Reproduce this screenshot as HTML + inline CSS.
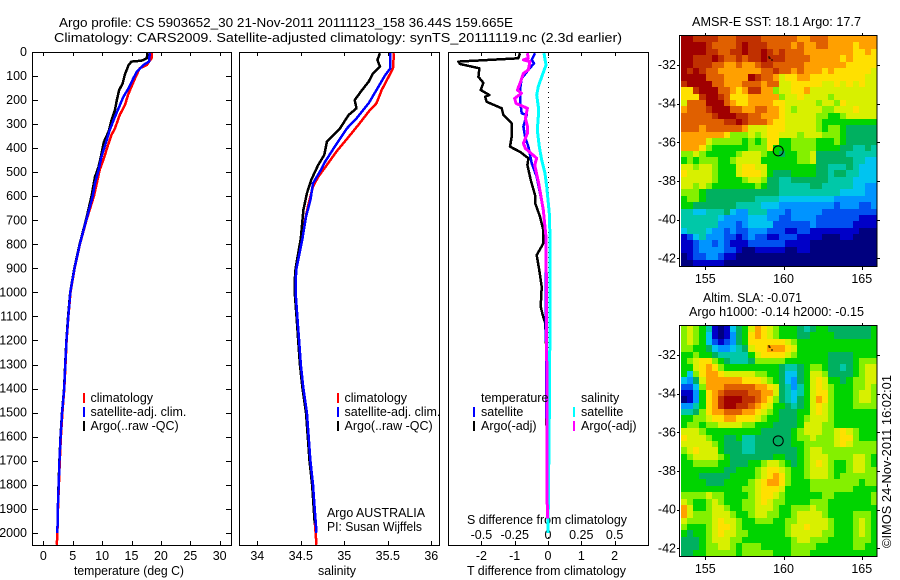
<!DOCTYPE html>
<html lang="en">
<head>
<meta charset="utf-8">
<title>Argo profile</title>
<style>
html,body{margin:0;padding:0;background:#fff;}
svg{display:block;}
text{font-family:"Liberation Sans",sans-serif;font-size:12.5px;fill:#000;}
</style>
</head>
<body>
<svg id="chart" width="900" height="580" viewBox="0 0 900 580" xmlns="http://www.w3.org/2000/svg">
<rect x="0" y="0" width="900" height="580" fill="#fff"/>
<text x="59" y="27" textLength="454" lengthAdjust="spacingAndGlyphs">Argo profile: CS 5903652_30 21-Nov-2011 20111123_158 36.44S 159.665E</text>
<text x="54" y="42" textLength="568" lengthAdjust="spacingAndGlyphs">Climatology: CARS2009. Satellite-adjusted climatology: synTS_20111119.nc (2.3d earlier)</text>
<text x="74" y="575" textLength="110" lengthAdjust="spacingAndGlyphs">temperature (deg C)</text>
<text x="318" y="575" textLength="38" lengthAdjust="spacingAndGlyphs">salinity</text>
<text x="467" y="575" textLength="159" lengthAdjust="spacingAndGlyphs">T difference from climatology</text>
<text x="467" y="524" textLength="160" lengthAdjust="spacingAndGlyphs">S difference from climatology</text>
<text x="692" y="26" textLength="169" lengthAdjust="spacingAndGlyphs">AMSR-E SST: 18.1 Argo: 17.7</text>
<text x="703" y="302" textLength="99" lengthAdjust="spacingAndGlyphs">Altim. SLA: -0.071</text>
<text x="689" y="316" textLength="175" lengthAdjust="spacingAndGlyphs">Argo h1000: -0.14 h2000: -0.15</text>
<text transform="translate(891,548) rotate(-90)" x="0" y="0" textLength="173" lengthAdjust="spacingAndGlyphs">©IMOS 24-Nov-2011 16:02:01</text>
<text x="327" y="517" textLength="98" lengthAdjust="spacingAndGlyphs">Argo AUSTRALIA</text>
<text x="327" y="531" textLength="95" lengthAdjust="spacingAndGlyphs">PI: Susan Wijffels</text>
<g id="plots"></g>
</svg>
<script>
/* ---------- axis tick values ---------- */
const depthTicks = [0,100,200,300,400,500,600,700,800,900,1000,1100,1200,1300,1400,1500,1600,1700,1800,1900,2000];
const tempTicks = [0,5,10,15,20,25,30];
const salTicks = [34,34.5,35,35.5,36];
const tDiffTicks = [-2,-1,0,1,2];
const sDiffTicks = [-0.5,-0.25,0,0.25,0.5];
const lonTicks = [155,160,165];
const latTicks = [-32,-34,-36,-38,-40,-42];

/* ---------- temperature profiles ---------- */
const tempClimDepth = [5,26,54,68,110,144,179,220,262,317,345,387,442,490,546,600,700,800,900,1000,1100,1200,1300,1400,1500,1600,1700,1800,1900,2000,2050];
const tempClim = [18.4,18.4,17.6,16.4,15.6,15.0,14.4,13.9,13.0,12.2,11.6,11.0,10.3,9.6,9.1,8.6,7.33,6.23,5.33,4.63,4.27,3.97,3.77,3.57,3.25,3.0,2.8,2.66,2.5,2.4,2.3];
const tempSatDepth = [5,40,54,82,110,151,187,228,269,325,374,435,490,546,600,700,800,900,1000,1100,1200,1300,1400,1500,1600,1700,1800,1900,2000];
const tempSat = [18.1,18.0,17.0,15.9,15.3,14.5,13.6,12.9,12.2,11.3,10.7,9.9,9.4,8.8,8.4,7.3,6.2,5.3,4.6,4.25,3.95,3.75,3.55,3.2,2.95,2.75,2.62,2.47,2.4];
const tempArgoDepth = [5,26,36,40,54,92,130,158,200,241,283,331,374,423,477,519,600,700,800,900,1000,1100,1200,1300,1400,1500,1600,1700,1800,1850];
const tempArgo = [17.7,17.6,16.7,15.0,14.5,13.9,13.5,12.9,12.5,12.2,11.6,11.1,10.3,9.9,9.4,8.8,8.2,7.25,6.18,5.28,4.58,4.22,3.93,3.73,3.53,3.18,2.93,2.73,2.6,2.5];

/* ---------- salinity profiles ---------- */
const salClimDepth = [5,68,117,158,213,248,304,353,414,470,519,560,630,699,775,900,950,1000,1100,1200,1300,1400,1500,1700,1800,1900,2000,2050];
const salClim = [35.57,35.56,35.49,35.43,35.37,35.28,35.16,35.05,34.91,34.80,34.70,34.64,34.59,34.55,34.52,34.45,34.44,34.44,34.46,34.48,34.50,34.52,34.56,34.60,34.63,34.65,34.67,34.68];
const salSatDepth = [5,68,96,158,213,276,318,394,456,498,546,616,685,775,900,950,1000,1100,1200,1300,1400,1500,1700,1800,1900,2000];
const salSat = [35.53,35.53,35.47,35.37,35.28,35.14,35.03,34.89,34.78,34.72,34.64,34.61,34.56,34.52,34.45,34.44,34.44,34.46,34.48,34.50,34.53,34.57,34.61,34.64,34.66,34.68];
const salArgoDepth = [5,33,61,89,123,165,200,234,262,318,373,428,470,532,588,657,775,900,950,1000,1100,1200,1300,1400,1500,1700,1800,1960];
const salArgo = [35.41,35.38,35.41,35.33,35.28,35.19,35.12,35.14,35.05,34.95,34.80,34.77,34.70,34.62,34.57,34.53,34.50,34.44,34.43,34.43,34.45,34.47,34.49,34.52,34.56,34.60,34.63,34.66];

/* ---------- differences from climatology ---------- */
const diffTArgoDepth = [5,26,40,50,68,103,128,158,179,186,207,234,262,297,352,394,415,442,470,532,595,630,685,741,796,845,908,977,1059,1094,1129,1212,1400,1700,1830];
const diffTArgo = [-0.84,-0.89,-2.69,-2.64,-2.06,-2.09,-1.94,-2.02,-1.76,-1.89,-1.84,-1.39,-1.34,-1.09,-1.09,-1.14,-0.84,-0.59,-0.62,-0.52,-0.39,-0.38,-0.24,-0.14,-0.14,-0.34,-0.26,-0.19,-0.22,-0.16,-0.08,-0.06,-0.05,-0.04,-0.04];
const diffTSatDepth = [5,33,47,75,110,158,200,255,262,310,352,394,463,519,574,657,769,1000,1400,1830];
const diffTSat = [-0.39,-0.49,-0.42,-0.59,-0.79,-0.84,-0.84,-0.79,-0.64,-0.74,-0.69,-0.59,-0.49,-0.34,-0.26,-0.14,-0.06,-0.07,-0.05,-0.03];
const diffSSatDepth = [5,54,103,144,179,227,269,324,394,449,505,560,671,769,1000,1400,1700,2000];
const diffSSat = [-0.03,-0.015,-0.0475,-0.0725,-0.085,-0.0725,-0.0725,-0.08,-0.065,-0.0475,-0.0225,-0.01,0.01,0.015,0.015,0.012,0.006,0.0];
const diffSArgoDepth = [5,26,33,40,75,89,130,158,172,193,214,234,276,310,338,380,401,442,470,546,657,769,1000,1400,1940];
const diffSArgo = [-0.155,-0.148,-0.185,-0.135,-0.148,-0.185,-0.21,-0.23,-0.2,-0.25,-0.24,-0.155,-0.17,-0.155,-0.155,-0.185,-0.17,-0.085,-0.1,-0.07,-0.035,-0.015,-0.012,-0.008,-0.005];

/* ---------- sea surface temperature map (colour level per cell) ---------- */
const sstRows = [
[14,14,13,13,13,13,12,12,12,13,13,13,13,12,12,12,12,12,12,11,11,12,12,12,11,11,11,11,11,11,11,11],
[14,14,14,14,13,12,12,12,12,13,14,13,13,13,12,12,12,12,11,12,11,11,12,12,11,11,11,11,10,11,11,11],
[14,14,14,14,13,13,12,12,13,13,14,13,13,14,13,12,13,12,12,12,11,11,11,11,11,11,11,11,10,10,11,10],
[14,14,13,13,13,14,13,12,12,13,12,13,13,14,13,13,13,12,12,12,12,11,11,11,11,11,10,11,10,10,10,10],
[14,14,13,13,13,12,12,11,11,12,11,11,12,13,13,12,12,12,12,12,11,11,11,11,11,11,11,10,10,10,10,10],
[14,13,14,13,12,12,11,11,11,11,11,11,11,12,12,13,12,12,11,12,11,11,11,10,11,10,10,10,10,10,10,9],
[14,14,14,14,12,12,12,11,11,11,11,14,13,12,12,11,9,10,10,11,11,10,10,10,10,10,10,10,10,10,9,9],
[13,14,14,14,14,12,12,11,11,11,12,12,12,11,12,12,9,9,10,10,10,10,10,9,9,10,9,10,9,10,9,9],
[10,10,13,14,14,14,12,12,11,10,11,13,13,11,11,8,9,9,10,10,11,9,9,9,9,9,9,9,9,9,9,9],
[10,10,10,13,14,14,13,12,10,10,10,11,11,11,11,11,8,9,9,10,9,9,9,9,8,9,9,9,9,9,9,9],
[9,12,12,12,14,14,14,12,11,10,10,11,11,11,11,10,10,9,9,9,9,9,8,9,9,8,10,9,9,9,9,9],
[11,12,12,12,13,14,14,14,12,12,11,11,12,12,11,11,10,9,8,9,9,9,9,8,8,9,9,9,10,9,9,9],
[12,12,12,12,12,13,14,14,14,13,13,12,12,11,11,11,10,9,9,9,9,9,8,8,7,7,8,9,9,9,9,9],
[12,12,12,12,12,12,12,13,13,14,13,12,12,12,11,10,10,9,9,9,9,9,8,7,7,7,7,7,7,7,7,7],
[12,12,12,11,12,12,12,12,12,12,11,9,9,9,10,10,10,9,9,9,9,9,8,7,8,8,7,6,6,6,6,6],
[11,11,11,11,11,11,11,10,8,8,8,9,8,9,10,10,9,9,9,8,9,9,9,8,8,8,7,6,6,6,6,6],
[11,11,11,11,9,8,8,8,8,8,7,8,7,8,10,10,7,7,8,8,8,8,7,7,7,8,7,6,6,6,6,6],
[11,11,11,10,8,7,7,7,7,7,7,8,8,8,10,7,7,7,8,8,8,8,7,7,7,7,6,6,5,5,6,5],
[8,8,9,8,7,7,7,7,7,8,9,9,9,8,7,7,6,7,7,8,8,9,6,6,6,6,6,5,5,5,5,5],
[7,8,7,8,8,8,7,7,8,9,9,9,9,7,7,7,7,7,7,8,8,9,6,6,6,6,6,6,5,5,4,4],
[9,9,8,9,9,8,7,7,7,9,10,10,9,9,7,7,7,7,7,7,7,7,6,6,5,5,5,6,5,4,4,4],
[10,9,9,9,9,8,7,7,7,9,10,10,10,9,7,6,6,6,7,7,7,7,6,6,5,6,6,5,5,4,4,4],
[9,9,9,9,9,8,7,7,7,7,8,9,9,8,6,6,5,5,6,6,6,6,6,6,5,5,5,5,4,4,4,4],
[9,9,8,9,8,7,7,7,7,7,7,7,8,7,6,6,5,5,5,5,5,6,6,5,5,5,5,5,4,4,3,3],
[8,8,8,7,6,6,6,6,6,6,6,6,6,6,6,6,5,5,5,5,5,5,5,5,5,5,4,4,4,4,3,3],
[7,8,8,7,6,6,6,6,6,6,6,6,5,5,5,5,4,4,4,4,4,4,4,4,4,3,3,3,3,3,3,3],
[7,7,6,6,6,6,6,6,6,5,5,5,5,4,4,4,3,3,3,3,3,3,3,3,3,2,3,3,3,2,2,3],
[5,5,4,4,5,5,5,6,4,3,3,5,5,5,3,3,3,2,3,3,3,3,3,2,2,2,2,2,2,2,2,2],
[5,5,5,5,5,5,4,3,3,3,3,4,4,4,3,3,2,2,3,3,3,3,2,2,2,2,2,2,2,1,1,1],
[5,5,5,5,5,5,3,3,3,2,3,4,4,4,4,2,2,2,2,2,2,3,2,2,2,2,2,2,1,1,1,1],
[4,5,5,5,4,3,3,2,3,2,2,3,3,3,2,2,2,1,1,2,2,1,1,1,1,1,1,1,1,0,0,0],
[1,2,4,5,3,3,3,2,2,1,2,3,2,2,1,1,2,2,2,1,1,1,1,0,0,0,1,1,0,0,0,0],
[1,1,2,3,3,2,3,2,1,1,1,2,2,2,2,2,2,1,1,1,1,0,0,0,0,0,0,0,0,0,0,0],
[1,1,2,3,3,3,3,2,2,1,0,0,1,1,1,1,1,0,0,1,1,0,0,0,0,0,0,0,0,0,0,0],
[0,1,2,2,3,3,2,1,1,0,0,0,0,0,0,0,0,0,0,0,0,0,0,0,0,0,0,0,0,0,0,0],
[0,0,1,1,1,1,1,0,0,0,0,0,0,0,0,0,0,0,0,0,0,0,0,0,0,0,0,0,0,0,0,0]
];

/* ---------- altimetry sea level anomaly map (colour level per cell) ---------- */
const slaRows = [
[8,9,8,7,5,1,0,1,4,6,7,9,11,10,9,8,7,7,7,6,5,6,7,7,6,6,6,6,6,6,6,7],
[8,9,8,7,4,1,0,1,3,6,7,10,11,10,9,8,7,7,7,6,6,7,7,7,7,6,6,6,6,6,6,7],
[8,9,8,7,4,2,1,2,3,6,7,10,10,10,10,10,10,9,8,7,7,7,7,7,7,7,7,7,7,7,7,7],
[8,8,7,7,6,4,3,3,4,5,6,9,10,10,11,11,11,10,9,7,7,7,7,7,7,7,7,7,7,7,7,7],
[7,7,8,7,7,6,5,5,5,5,5,7,9,10,10,10,10,9,8,7,7,7,7,7,6,6,6,6,7,7,7,7],
[7,8,9,10,10,8,7,6,5,5,5,6,8,8,8,8,8,7,7,7,7,7,7,7,6,6,6,6,7,8,8,8],
[7,7,9,10,11,10,8,7,7,7,7,7,7,7,7,7,6,5,5,6,7,8,8,7,6,6,5,6,7,8,9,9],
[7,4,8,10,11,11,10,9,9,9,9,9,8,8,7,7,6,4,4,6,7,9,9,8,6,6,6,6,7,8,9,9],
[4,3,6,9,11,11,11,11,11,11,10,10,10,9,8,7,6,4,3,6,7,9,10,9,7,7,6,7,8,8,9,9],
[2,2,4,8,11,11,11,12,12,12,12,12,11,11,10,9,6,5,3,5,7,9,10,9,8,7,7,7,8,8,9,8],
[1,1,3,7,10,11,12,13,13,13,13,12,12,11,11,9,6,5,4,5,7,9,10,10,8,7,7,7,8,9,9,8],
[0,1,3,7,10,11,13,14,14,14,13,13,12,11,10,8,6,5,4,6,7,9,11,10,8,7,7,7,8,9,9,8],
[3,3,5,7,10,11,13,14,14,13,13,12,11,10,9,7,7,6,5,6,7,9,10,9,8,7,7,7,8,8,8,8],
[5,5,6,8,10,11,11,12,12,12,11,11,10,9,8,7,6,6,6,7,7,9,10,9,8,7,7,7,7,7,7,7],
[7,7,8,8,9,10,10,11,11,10,10,10,9,8,7,7,6,6,6,7,8,9,9,9,8,7,7,7,7,7,7,7],
[7,8,8,7,8,8,9,9,9,9,8,8,7,7,7,6,6,6,6,7,9,9,9,8,8,7,7,7,7,7,7,7],
[9,9,9,8,7,7,7,7,7,7,7,7,7,6,6,6,6,6,7,8,9,9,9,8,8,9,10,9,8,7,7,7],
[10,9,9,9,8,7,7,6,6,7,5,5,6,6,6,6,6,6,7,8,8,9,8,8,8,9,10,10,8,7,7,7],
[9,9,9,9,9,8,7,6,6,6,5,5,6,6,6,6,6,6,7,7,8,8,8,8,8,9,10,9,8,8,8,8],
[8,9,10,9,9,9,7,6,6,6,5,5,6,6,6,6,6,6,6,7,8,9,9,8,8,8,8,8,8,8,8,8],
[7,8,9,9,9,9,8,7,6,6,6,6,6,6,6,7,7,6,6,7,8,9,9,9,8,8,8,8,9,9,8,7],
[7,7,8,8,8,8,7,7,6,6,6,7,7,8,9,9,8,7,6,7,8,9,10,9,8,7,7,8,9,9,8,7],
[7,7,7,7,7,7,7,6,6,7,7,7,8,9,10,10,9,8,7,7,8,9,9,9,8,7,7,8,9,9,8,8],
[7,7,7,6,6,6,6,6,7,7,7,7,8,9,10,11,10,8,7,7,8,9,9,9,8,7,8,8,8,8,8,8],
[7,7,7,7,6,6,6,7,7,7,7,8,9,10,11,11,10,8,7,7,7,8,8,8,8,8,8,8,8,7,8,8],
[7,7,7,7,7,7,7,7,7,7,8,8,9,10,10,10,9,7,7,7,7,8,8,8,8,8,8,8,7,7,7,7],
[8,8,8,8,9,8,8,7,7,7,7,8,9,10,10,9,8,7,7,7,7,7,7,8,8,7,7,7,7,7,7,8],
[9,8,7,7,8,9,8,7,7,7,8,8,9,10,9,8,8,7,7,7,7,8,8,8,7,7,7,7,7,7,7,8],
[11,9,7,7,8,9,9,8,7,7,8,8,9,9,9,8,7,7,8,8,8,9,8,8,7,7,7,7,7,7,7,7],
[11,9,8,8,8,9,9,9,8,7,7,8,9,9,8,8,7,7,8,9,9,9,9,8,7,7,7,7,8,8,8,7],
[9,8,8,8,8,9,10,9,9,8,7,7,8,8,8,7,7,8,8,9,9,9,9,9,8,7,7,7,8,9,8,7],
[8,7,7,7,8,9,10,10,9,8,7,7,7,7,7,7,7,8,9,9,10,9,9,9,8,7,7,7,8,9,8,7],
[7,6,7,7,8,9,10,9,9,8,8,7,7,7,7,7,7,8,9,9,9,9,9,8,8,7,7,7,8,9,8,7],
[6,6,6,7,8,9,9,9,8,8,7,7,7,7,7,7,7,7,8,9,9,8,8,8,7,7,7,7,8,8,8,7],
[6,6,6,7,8,8,9,9,8,7,8,8,8,7,7,7,7,7,8,8,8,8,7,7,7,7,7,7,8,8,7,7],
[6,6,7,7,8,8,8,8,8,7,8,8,8,8,8,7,7,7,8,8,8,7,7,7,7,7,7,7,7,7,7,7]
];

/* ---------- colour scale for map levels ---------- */
const levelColors = ['#00007f','#0000c8','#0050f0','#0094ff','#00c4f0','#00c8a8','#00b060','#00d400','#84f000','#d8f000','#ffe000','#ffa000','#e06000','#c03000','#a00000'];

/* ---------- axis functions ---------- */
const SVGNS = 'http://www.w3.org/2000/svg';
const root = document.getElementById('plots');
const yDepth = d => 52 + d * 0.2404;
const xTemp = t => 43.3 + t * 5.88;
const xSal = s => 257.3 + (s - 34) * 87;
const xTDiff = t => 548 + t * 33.3;
const xSDiff = s => 548 + s * 133.2;
const xLon = l => 705.3 + (l - 155) * 15.65;
const yLatTop = l => 65 + (-32 - l) * 19.33;
const yLatBot = l => 355 + (-32 - l) * 19.33;

function mk(tag, attrs, parent) {
  const el = document.createElementNS(SVGNS, tag);
  for (const k in attrs) el.setAttribute(k, attrs[k]);
  (parent || root).appendChild(el);
  return el;
}
function txt(str, x, y, anchor) {
  const el = mk('text', {x: x, y: y, 'text-anchor': anchor || 'middle'});
  el.textContent = str;
  return el;
}
function seg(x1, y1, x2, y2, color, width) {
  return mk('line', {x1: x1, y1: y1, x2: x2, y2: y2, stroke: color || '#000', 'stroke-width': width || 1, 'shape-rendering': 'crispEdges'});
}
function frame(x, y, w, h) {
  return mk('rect', {x: x, y: y, width: w, height: h, fill: 'none', stroke: '#000', 'stroke-width': 1, 'shape-rendering': 'crispEdges'});
}
function profile(depths, values, xFn, color, width) {
  const pts = depths.map((d, i) => xFn(values[i]).toFixed(1) + ',' + yDepth(d).toFixed(1)).join(' ');
  return mk('polyline', {points: pts, fill: 'none', stroke: color, 'stroke-width': width, 'stroke-linejoin': 'round', 'shape-rendering': 'crispEdges'});
}

/* ---------- map drawing ---------- */
function drawCells(rows, x0, y0, x1, y1) {
  const g = mk('g', {});
  const nRows = rows.length;
  rows.forEach((row, r) => {
    const top = Math.round(y0 + (y1 - y0) * r / nRows);
    const bot = Math.round(y0 + (y1 - y0) * (r + 1) / nRows);
    row.forEach((lvl, c) => {
      const left = Math.round(x0 + (x1 - x0) * c / row.length);
      const right = Math.round(x0 + (x1 - x0) * (c + 1) / row.length);
      const cell = mk('rect', {x: left, y: top, width: right - left, height: bot - top, fill: levelColors[lvl], 'shape-rendering': 'crispEdges'}, g);
      
      
    });
  });
  return g;
}

/* ---------- panel 1: temperature ---------- */
const f1 = frame(32.5, 52.5, 199, 493);


depthTicks.forEach(d => {
  const y = Math.round(yDepth(d)) + 0.5;
  const tl = seg(32, y, 38, y);
  
  
  const tr = seg(226, y, 231, y);
  
  
  const lb = txt(String(d), 27, yDepth(d) + 4, 'end');
  
  
});
tempTicks.forEach(t => {
  const x = Math.round(xTemp(t)) + 0.5;
  const a = seg(x, 52, x, 56);
  
  
  const b = seg(x, 541, x, 545);
  
  
  const lb = txt(String(t), xTemp(t), 560);
  
  
});
const pTc = profile(tempClimDepth, tempClim, xTemp, '#ff0000', 2.5);


const pTa = profile(tempArgoDepth, tempArgo, xTemp, '#000000', 2.5);


const pTs = profile(tempSatDepth, tempSat, xTemp, '#0000ff', 2.5);



/* ---------- panel 2: salinity ---------- */
const f2 = frame(239.5, 52.5, 200, 493);


salTicks.forEach(s => {
  const x = Math.round(xSal(s)) + 0.5;
  const a = seg(x, 52, x, 56);
  
  
  const b = seg(x, 541, x, 545);
  
  
  const lb = txt(String(s), xSal(s), 560);
  
  
});
const pSc = profile(salClimDepth, salClim, xSal, '#ff0000', 2.5);


const pSa = profile(salArgoDepth, salArgo, xSal, '#000000', 2.5);


const pSs = profile(salSatDepth, salSat, xSal, '#0000ff', 2.5);



/* ---------- panel 3: differences ---------- */
const f3 = frame(448.5, 52.5, 200, 493);


const zeroLine = mk('line', {x1: 548.5, y1: 52, x2: 548.5, y2: 545, stroke: '#000', 'stroke-width': 1, 'stroke-dasharray': '1 4', 'shape-rendering': 'crispEdges'});


tDiffTicks.forEach(t => {
  const x = Math.round(xTDiff(t)) + 0.5;
  const a = seg(x, 52, x, 56);
  
  
  const b = seg(x, 541, x, 545);
  
  
  const lb = txt(String(t), xTDiff(t), 560);
  
  
});
sDiffTicks.forEach(s => {
  const lb = txt(String(s), xSDiff(s), 539);
  
  
});
const pDs = profile(diffSSatDepth, diffSSat, xSDiff, '#00ffff', 3);


const pDa = profile(diffTArgoDepth, diffTArgo, xTDiff, '#000000', 2.5);


const pDb = profile(diffTSatDepth, diffTSat, xTDiff, '#0000ff', 2.5);


const pDm = profile(diffSArgoDepth, diffSArgo, xSDiff, '#ff00ff', 3);



/* ---------- legends ---------- */
const lg1a = seg(84, 393, 84, 403, '#ff0000', 2);


const lg1b = seg(84, 407, 84, 417, '#0000ff', 2);


const lg1c = seg(84, 421, 84, 431, '#000000', 2);


const lt1a = txt('climatology', 90.5, 402, 'start');


const lt1b = txt('satellite-adj. clim.', 90.5, 416, 'start');


const lt1c = txt('Argo(..raw -QC)', 90.5, 430, 'start');



const lg2a = seg(338, 393, 338, 403, '#ff0000', 2);


const lg2b = seg(338, 407, 338, 417, '#0000ff', 2);


const lg2c = seg(338, 421, 338, 431, '#000000', 2);


const lt2a = txt('climatology', 344.5, 402, 'start');


const lt2b = txt('satellite-adj. clim.', 344.5, 416, 'start');


const lt2c = txt('Argo(..raw -QC)', 344.5, 430, 'start');



const lg3a = seg(474, 407, 474, 417, '#0000ff', 2);


const lg3b = seg(474, 421, 474, 431, '#000000', 2);


const lg3c = seg(574, 407, 574, 417, '#00ffff', 2);


const lg3d = seg(574, 421, 574, 431, '#ff00ff', 2);


const lt3a = txt('temperature', 481, 402, 'start');


const lt3b = txt('satellite', 481, 416, 'start');


const lt3c = txt('Argo(-adj)', 481, 430, 'start');


const lt3d = txt('salinity', 581, 402, 'start');


const lt3e = txt('satellite', 581, 416, 'start');


const lt3f = txt('Argo(-adj)', 581, 430, 'start');



/* ---------- maps ---------- */
const m1 = drawCells(sstRows, 681, 36, 877, 266);


const m2 = drawCells(slaRows, 681, 326, 877, 556);



const fm1 = frame(679.5, 35.5, 197.5, 231);


const fm2 = frame(679.5, 325.5, 197.5, 231);



lonTicks.forEach(l => {
  const x = Math.round(xLon(l)) + 0.5;
  const a = seg(x, 33, x, 35);
  
  
  const b = seg(x, 267, x, 270);
  
  
  const c = txt(String(l), xLon(l), 283);
  
  
  const d = seg(x, 323, x, 325);
  
  
  const e = seg(x, 557, x, 560);
  
  
  const f = txt(String(l), xLon(l), 573);
  
  
});
latTicks.forEach(l => {
  const y1 = Math.round(yLatTop(l)) + 0.5;
  const a = seg(677, y1, 680, y1);
  
  
  const b = seg(877, y1, 880, y1);
  
  
  const c = txt(String(l), 676, yLatTop(l) + 4, 'end');
  
  
  const y2 = Math.round(yLatBot(l)) + 0.5;
  const d = seg(677, y2, 680, y2);
  
  
  const e = seg(877, y2, 880, y2);
  
  
  const f = txt(String(l), 676, yLatBot(l) + 4, 'end');
  
  
});

/* profile location markers */
const floatLon = 159.66;
const floatLat = -36.44;
const c1 = mk('circle', {cx: xLon(floatLon), cy: yLatTop(floatLat), r: 5, fill: 'none', stroke: '#000', 'stroke-width': 1});


const c2 = mk('circle', {cx: xLon(floatLon), cy: yLatBot(floatLat), r: 5, fill: 'none', stroke: '#000', 'stroke-width': 1});



/* small island coastline marks */
const is1 = mk('path', {d: 'M769 56v2h1v1M771 60h2', fill: 'none', stroke: '#000', 'stroke-width': 1, 'shape-rendering': 'crispEdges'});


const is2 = mk('path', {d: 'M769 345v2h1v1M771 350h2', fill: 'none', stroke: '#000', 'stroke-width': 1, 'shape-rendering': 'crispEdges'});


</script>
</body>
</html>
